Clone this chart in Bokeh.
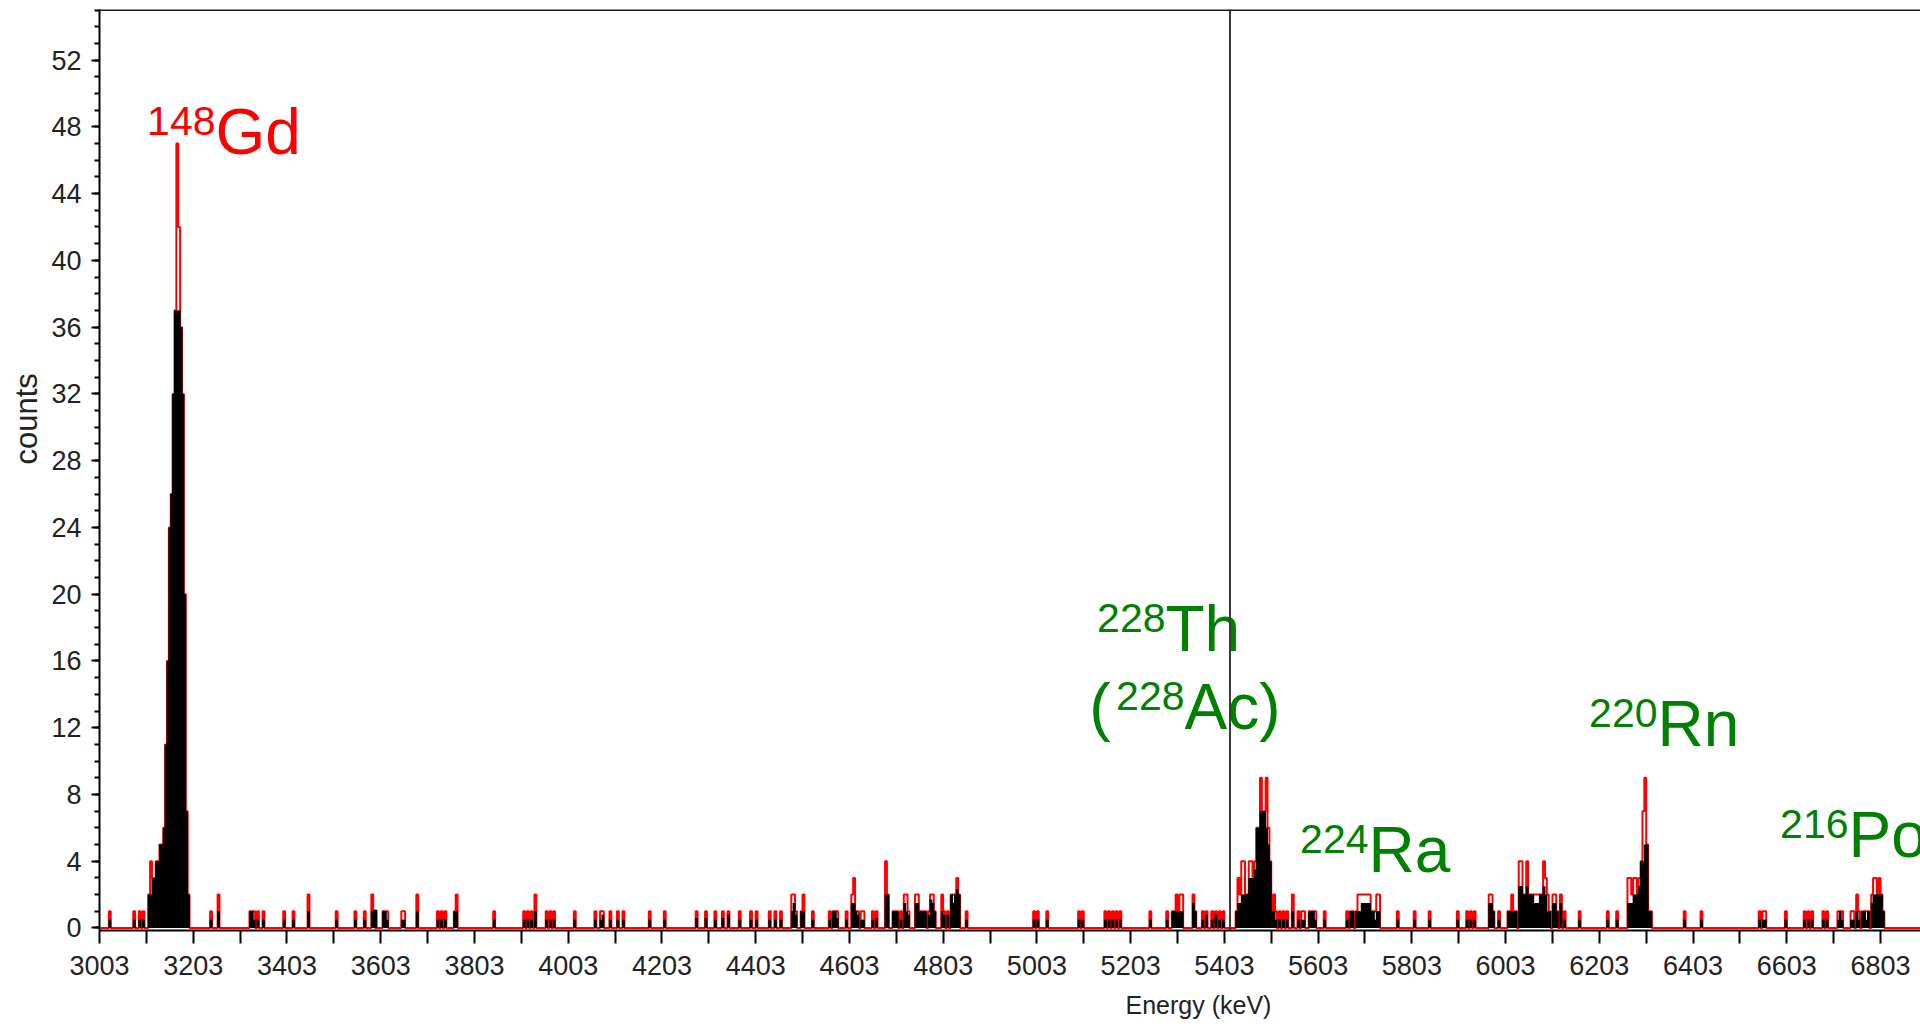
import numpy as np
from bokeh.plotting import figure
from bokeh.models import FixedTicker, Span, ColumnDataSource, Title
from bokeh.core.properties import value
from bokeh.embed import file_html
from bokeh.resources import INLINE

# Alpha spectrum: non-empty channels only (channel centre in keV)
channel_kev = [
    3025, 3077, 3089, 3097,
    3109, 3113, 3117, 3121, 3125, 3129, 3133, 3137, 3141, 3145, 3149, 3153,
    3157, 3161, 3165, 3169, 3173, 3177, 3181, 3185, 3189, 3193,
    3241, 3257, 3325, 3329, 3333, 3341, 3353, 3397, 3417, 3449, 3509, 3549,
    3569, 3585, 3589, 3593, 3609, 3613, 3617, 3649, 3653, 3681, 3725, 3733,
    3741, 3761, 3765, 3845, 3909, 3917, 3925, 3933, 3957, 3965, 3973,
    4017, 4061, 4073, 4077, 4093, 4109, 4121, 4177, 4209, 4277, 4297, 4317,
    4333, 4345, 4369, 4393, 4405, 4433, 4445, 4457, 4481, 4485, 4489, 4501,
    4505, 4525, 4561, 4569, 4573, 4577, 4597, 4609, 4613, 4617, 4621, 4629,
    4633, 4653, 4661, 4681, 4685, 4697, 4701, 4705, 4713, 4721, 4725, 4729,
    4745, 4749, 4753, 4757, 4761, 4765, 4773, 4777, 4781, 4785, 4801, 4805,
    4813, 4821, 4825, 4829, 4833, 4837, 4853,
    4997, 5005, 5025, 5093, 5101, 5149, 5157, 5165, 5173, 5181, 5245, 5281,
    5293, 5297, 5301, 5305, 5309, 5313, 5337, 5341, 5357, 5365, 5377, 5385,
    5393, 5401,
    5429, 5433, 5437, 5441, 5445, 5449, 5453, 5457, 5461, 5465, 5469, 5473,
    5477, 5481, 5485, 5489, 5493, 5497, 5501, 5505, 5509, 5513,
    5521, 5529, 5537, 5549, 5561, 5569, 5573, 5585, 5589, 5593, 5597, 5617,
    5665, 5673, 5677, 5685, 5689, 5693, 5697, 5701, 5705, 5709, 5713, 5717,
    5721, 5725, 5729, 5733, 5773, 5809, 5841, 5901,
    5921, 5929, 5937, 5969, 5973, 5977, 5989, 6009, 6013, 6017, 6021, 6025,
    6033, 6037, 6041, 6045, 6049, 6053, 6057, 6061, 6065, 6069, 6073, 6077,
    6081, 6085, 6089, 6093, 6097, 6105, 6109, 6113, 6121, 6129, 6161, 6221,
    6241, 6265, 6269, 6273, 6277, 6281, 6285, 6289, 6293, 6297, 6301, 6305,
    6309, 6313, 6385, 6421, 6545, 6553, 6557, 6601, 6641, 6649, 6657, 6681,
    6689, 6713, 6717, 6721, 6741, 6745, 6753, 6757, 6765, 6769, 6773, 6777,
    6785, 6789, 6793, 6797, 6801, 6805, 6809,
]

# All events (red trace)
total_counts = [
    1, 1, 1, 1,
    2, 4, 3, 3, 4, 4, 5, 5, 6, 11, 16, 24,
    26, 32, 37, 47, 42, 36, 32, 20, 7, 2,
    1, 2, 1, 1, 1, 1, 1, 1, 1, 2, 1, 1,
    1, 2, 1, 0, 1, 1, 1, 1, 1, 2, 1, 1,
    1, 1, 2, 1, 1, 1, 1, 2, 1, 1, 1,
    1, 1, 1, 1, 1, 1, 1, 1, 1, 1, 1, 1,
    1, 1, 1, 1, 1, 1, 1, 1, 2, 2, 1, 1,
    2, 1, 1, 1, 1, 1, 1, 2, 3, 1, 1, 1,
    1, 1, 1, 4, 2, 1, 1, 1, 1, 2, 2, 1,
    2, 2, 1, 1, 1, 1, 1, 2, 2, 1, 2, 1,
    1, 2, 2, 2, 3, 2, 1,
    1, 1, 1, 1, 1, 1, 1, 1, 1, 1, 1, 1,
    1, 1, 2, 1, 2, 2, 2, 1, 1, 1, 1, 1,
    1, 1,
    1, 3, 2, 4, 4, 2, 2, 4, 4, 3, 4, 6,
    6, 9, 7, 7, 9, 6, 4, 1, 2, 1,
    1, 1, 1, 2, 1, 1, 1, 1, 1, 1, 1, 1,
    1, 1, 1, 1, 2, 2, 2, 2, 2, 2, 2, 1,
    1, 1, 2, 2, 1, 1, 1, 1,
    1, 1, 1, 2, 2, 1, 1, 1, 1, 2, 1, 1,
    4, 4, 2, 2, 4, 2, 2, 2, 2, 2, 2, 2,
    2, 4, 3, 2, 1, 2, 2, 1, 2, 1, 1, 1,
    1, 3, 3, 2, 3, 3, 2, 3, 4, 7, 9, 5,
    1, 1, 1, 1, 1, 1, 1, 1, 1, 1, 1, 1,
    1, 1, 1, 1, 1, 1, 2, 1, 1, 1, 1, 1,
    2, 3, 3, 2, 3, 2, 1,
]

# Selected events (black fill)
gated_counts = [
    0.5, 0.5, 0.5, 0.5,
    2, 2, 3, 3, 4, 4, 5, 5, 6, 11, 16, 24,
    26, 32, 37, 37, 37, 36, 32, 20, 7, 2,
    0.5, 1, 1, 1, 0.5, 0.5, 0.5, 0.5, 0.5, 1, 0.5, 0.5,
    0.5, 1, 1.1, 1.1, 1, 1, 0.5, 0.5, 0.5, 1, 0.5, 0.5,
    0.5, 1, 1, 0.5, 0.5, 0.5, 0.5, 1, 0.5, 0.5, 0.5,
    0.5, 0.5, 0.5, 0.8, 0.5, 0.5, 0.5, 0.5, 0.5, 0.6, 0.6, 0.5,
    0.6, 0.8, 0.5, 0.5, 0.5, 0.5, 0.5, 0.5, 1, 1.5, 0.8, 1,
    1, 0.5, 0.5, 1, 1, 0.6, 0.5, 1.5, 1.5, 1, 0.8, 0.5,
    0.5, 0.5, 0.6, 2, 2, 1, 1, 1, 0.5, 1.5, 1, 0.8,
    1.5, 1.5, 1, 1, 1, 1, 0.8, 1.7, 1.5, 1, 1, 0.8,
    0.8, 2, 1.5, 2, 2.3, 2, 0.5,
    0.5, 0.5, 0.5, 0.5, 0.5, 0.5, 0.5, 0.5, 0.5, 0.5, 0.5, 0.5,
    1, 1, 1, 1, 1, 1, 1.5, 1, 0.5, 0.8, 0.5, 0.8,
    0.5, 0.5,
    1, 1.5, 1.5, 2, 2, 2, 2, 3, 3, 3, 3.5, 6,
    6, 7, 7, 7, 6, 5, 4, 1, 1, 0.5,
    0.5, 0.5, 0.5, 1, 0.5, 0.5, 0.5, 1, 1, 1, 0.5, 0.5,
    0.5, 1, 1, 1, 1, 1, 1.5, 1.5, 1.5, 1.5, 1.5, 1,
    1, 0.5, 1, 1, 0.5, 0.5, 0.5, 0.5,
    0.5, 0.5, 0.5, 1.5, 1.5, 1, 0.5, 1, 1, 1, 1, 1,
    2.5, 2.5, 2, 2, 2.5, 2, 2, 2, 1.5, 1.5, 1.5, 2,
    2, 2.5, 2, 1, 1, 1.5, 1.5, 1, 1.5, 0.5, 0.5, 0.5,
    0.5, 1.5, 1.5, 1.5, 2, 2, 2, 2.5, 4, 4, 5, 5,
    1, 1, 0.5, 0.5, 0.5, 0.5, 0.5, 0.5, 0.5, 0.5, 0.5, 0.5,
    0.5, 0.5, 1, 0.5, 0.5, 0.5, 1, 0.5, 1, 1, 0.5, 1,
    1.5, 2, 2, 2, 2, 2, 1,
]

# Axis ticks
x_major_ticks = list(range(3003, 6804, 200))
x_minor_ticks = list(range(3103, 6904, 200))
y_major_ticks = list(range(0, 53, 4))
y_minor_ticks = list(range(0, 56))

# Isotope annotations: opening bracket, mass number (superscript), symbol
iso_open = ["", "", "(", "", "", ""]
iso_mass = ["148", "228", "228", "224", "220", "216"]
iso_symbol = ["Gd", "Th", "Ac)", "Ra", "Rn", "Po"]
iso_kev = [3250.5, 5277.4, 5317.9, 5710.5, 6327.1, 6734.6]
iso_counts = [46.31, 16.54, 11.86, 3.30, 10.84, 4.19]
iso_open_kev = [3250.5, 5277.4, 5160.0, 5710.5, 6327.1, 6734.6]
iso_color = ["#ff0000", "#008000", "#008000", "#008000", "#008000", "#008000"]

# Cursor marker
marker_kev = 5415

E_START, E_END = 3003, 6888.2
Y_START, Y_END = -0.15, 55.03
BIN = 4.0

# Full channel grid, filled from the non-empty channels
n_bins = int(np.ceil((E_END - E_START) / BIN)) + 2
centers = E_START + BIN / 2 + BIN * np.arange(n_bins)
idx = np.rint((np.array(channel_kev) - (E_START + BIN / 2)) / BIN).astype(int)
red = np.zeros(n_bins)
red[idx] = total_counts

p = figure(
    width=1920, height=1030,
    x_range=(E_START, E_END), y_range=(Y_START, Y_END),
    output_backend="svg", toolbar_location=None,
    min_border_left=99, min_border_right=0,
    min_border_top=9, min_border_bottom=100,
)
p.xgrid.visible = False
p.ygrid.visible = False
p.outline_line_color = None
p.background_fill_color = "white"
p.border_fill_color = "white"

# red trace of all counts
p.step(centers, red, mode="center", line_color="#ff0000", line_width=2)

# black filled bars of the selected counts
p.vbar(x=centers[idx], top=gated_counts, bottom=0, width=BIN * 1.5,
       fill_color="black", line_color=None)

# cursor line
p.add_layout(Span(location=marker_kev, dimension="height",
                  line_color="#3a3a3a", line_width=2))
# frame top edge
p.add_layout(Span(location=Y_END, dimension="width",
                  line_color="#1a1a1a", line_width=3))

tick_font = "Liberation Sans"

xa = p.xaxis[0]
xa.ticker = FixedTicker(ticks=x_major_ticks, minor_ticks=x_minor_ticks)
xa.axis_line_color = "black"
xa.axis_line_width = 2
xa.major_tick_line_color = "black"
xa.minor_tick_line_color = "black"
xa.major_tick_line_width = 2
xa.minor_tick_line_width = 2
xa.major_tick_in = 0
xa.minor_tick_in = 0
xa.major_tick_out = 13
xa.minor_tick_out = 13
xa.major_label_standoff = 12
xa.major_label_text_font = tick_font
xa.major_label_text_font_size = "27px"
xa.major_label_text_color = "#222222"

ya = p.yaxis[0]
ya.ticker = FixedTicker(ticks=y_major_ticks, minor_ticks=y_minor_ticks)
ya.axis_line_color = "black"
ya.axis_line_width = 2
ya.major_tick_line_color = "black"
ya.minor_tick_line_color = "black"
ya.major_tick_line_width = 2
ya.minor_tick_line_width = 2
ya.major_tick_in = 0
ya.minor_tick_in = 0
ya.major_tick_out = 8
ya.minor_tick_out = 5
ya.major_label_standoff = 10
ya.major_label_text_font = tick_font
ya.major_label_text_font_size = "27px"
ya.major_label_text_color = "#222222"

# axis titles
p.add_layout(Title(text="Energy (keV)", align="left", offset=1026,
                   text_font=tick_font, text_font_size="25px",
                   text_font_style="normal", text_color="#222222",
                   standoff=22), "below")
p.add_layout(Title(text="counts", align="left", offset=466,
                   text_font=tick_font, text_font_size="31px",
                   text_font_style="normal", text_color="#222222",
                   standoff=9), "left")

# isotope labels
iso_src = ColumnDataSource(dict(x=iso_kev, y=iso_counts, x_open=iso_open_kev,
                                open=iso_open, mass=iso_mass, sym=iso_symbol,
                                color=iso_color))
p.text(x="x", y="y", text="mass", source=iso_src, text_color="color",
       text_font=value("Liberation Sans"), text_font_size="41px",
       text_align="right", text_baseline="alphabetic", y_offset=-34)
p.text(x="x", y="y", text="sym", source=iso_src, text_color="color",
       text_font=value("Liberation Sans"), text_font_size="64px",
       text_align="left", text_baseline="alphabetic", y_offset=-23)
p.text(x="x_open", y="y", text="open", source=iso_src, text_color="color",
       text_font=value("Liberation Sans"), text_font_size="64px",
       text_align="right", text_baseline="alphabetic", y_offset=-23)

open("out.html", "w").write(file_html(p, INLINE))
